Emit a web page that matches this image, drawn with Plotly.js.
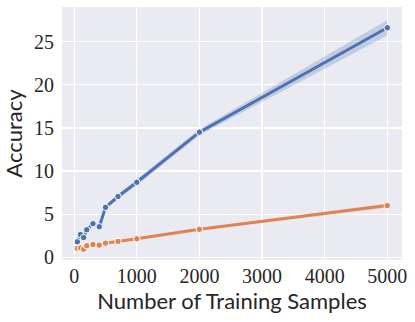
<!DOCTYPE html>
<html>
<head>
<meta charset="utf-8">
<script src="https://cdn.plot.ly/plotly-3.0.1.min.js"></script>
<style>
  html, body { margin: 0; padding: 0; background: #fff; }
  #plot { width: 415px; height: 322px; }
</style>
</head>
<body>
<div id="plot"></div>
<script>
// training set sizes
const samples = [50, 100, 150, 200, 300, 400, 500, 700, 1000, 2000, 5000];

// mean accuracy for the two runs
const blueMean = [1.8, 2.65, 2.3, 3.2, 3.9, 3.55, 5.8, 7.05, 8.7, 14.5, 26.6];
const orangeMean = [1.05, 1.1, 0.95, 1.35, 1.5, 1.42, 1.65, 1.85, 2.15, 3.25, 6.0];

// half width of the shaded band
const blueSpread = [0.15, 0.2, 0.15, 0.2, 0.2, 0.2, 0.2, 0.25, 0.35, 0.35, 0.9];
const orangeSpread = [0.05, 0.05, 0.05, 0.05, 0.05, 0.05, 0.05, 0.05, 0.08, 0.1, 0.25];

const xTicks = [0, 1000, 2000, 3000, 4000, 5000];
const yTicks = [0, 5, 10, 15, 20, 25];

const blue = '#4c72b0';
const orange = '#dd8452';

function bandTrace(mean, spread, fill) {
    let xs = samples.concat(samples.slice().reverse());
    let hi = mean.map((m, i) => m + spread[i]);
    let lo = mean.map((m, i) => m - spread[i]).reverse();
    return {
        x: xs,
        y: hi.concat(lo),
        fill: 'toself',
        fillcolor: fill,
        line: { width: 0 },
        mode: 'lines',
        hoverinfo: 'skip',
        showlegend: false
    };
}

function lineTrace(mean, color) {
    return {
        x: samples,
        y: mean,
        mode: 'lines+markers',
        line: { color: color, width: 3 },
        marker: { color: color, size: 6.5, line: { color: '#ffffff', width: 1 } },
        showlegend: false
    };
}

let traces = [
    bandTrace(blueMean, blueSpread, 'rgba(76,114,176,0.25)'),
    bandTrace(orangeMean, orangeSpread, 'rgba(221,132,82,0.25)'),
    lineTrace(blueMean, blue),
    lineTrace(orangeMean, orange)
];

const serif = 'Liberation Serif';
const sans = 'Lato';

let layout = {
    width: 415,
    height: 322,
    margin: { l: 62, r: 13, t: 7, b: 62 },
    paper_bgcolor: '#ffffff',
    plot_bgcolor: '#eaeaf2',
    font: { family: serif, size: 20, color: '#262626' },
    xaxis: {
        range: [-195, 5235],
        tickmode: 'array',
        tickvals: xTicks,
        ticktext: xTicks.map(String),
        tickfont: { family: serif, size: 20, color: '#262626' },
        showgrid: true,
        gridcolor: '#ffffff',
        gridwidth: 1.3,
        zeroline: false,
        showline: false,
        ticks: '',
        ticklabelstandoff: 2,
        title: { text: 'Number of Training Samples', font: { family: sans, size: 22, color: '#262626' }, standoff: 4 }
    },
    yaxis: {
        range: [-0.3, 29],
        tickmode: 'array',
        tickvals: yTicks,
        ticktext: yTicks.map(String),
        tickfont: { family: serif, size: 20, color: '#262626' },
        showgrid: true,
        gridcolor: '#ffffff',
        gridwidth: 1.3,
        zeroline: false,
        showline: false,
        ticks: '',
        ticklabelstandoff: 7,
        title: { text: 'Accuracy', font: { family: sans, size: 22, color: '#262626' }, standoff: 7 }
    }
};

Plotly.newPlot('plot', traces, layout, { displayModeBar: false, staticPlot: true });
</script>
</body>
</html>
